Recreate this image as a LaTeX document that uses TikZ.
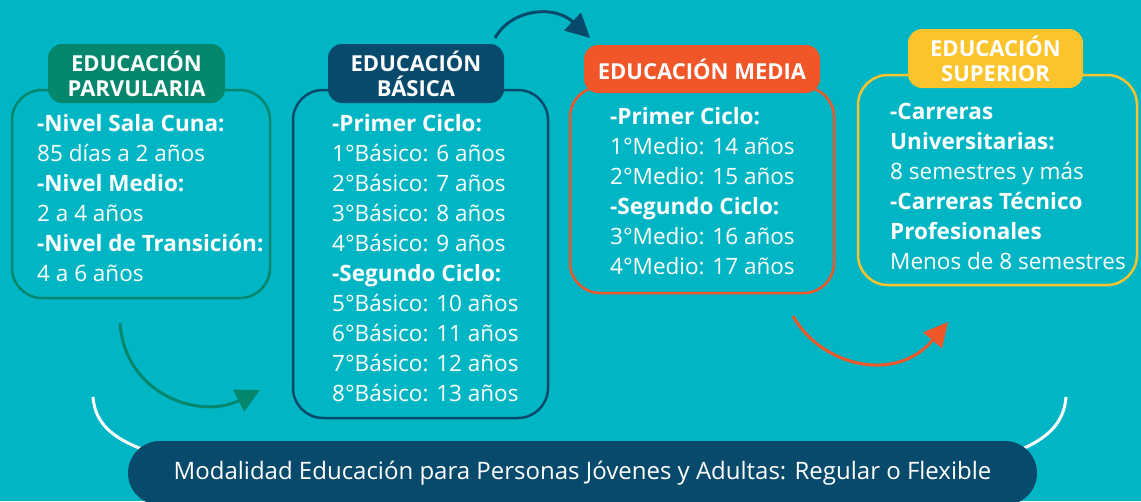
\documentclass[tikz,border=0pt]{standalone}
\usepackage{fontspec}
\setmainfont{Open Sans}
\usetikzlibrary{arrows.meta,positioning}
\definecolor{edu-bg}{RGB}{0,182,196}
\definecolor{edu-green}{RGB}{5,135,110}
\definecolor{edu-blue}{RGB}{8,74,108}
\definecolor{edu-orange}{RGB}{240,86,40}
\definecolor{edu-yellow}{RGB}{251,196,45}

\begin{document}
\begin{tikzpicture}[x=1pt, y=-1pt,
    box/.style={rectangle, draw, line width=2.5pt, rounded corners=30pt, inner sep=0pt},
    title/.style={rectangle, rounded corners=14pt, text=white, align=center, inner sep=0pt, font=\bfseries\fontsize{22}{25}\selectfont},
    body/.style={anchor=north west, inner sep=0pt, text=white, align=left, font=\fontsize{22.5}{30}\selectfont},
    arrow/.style={-{Triangle[length=24pt,width=24pt]}, line width=3pt}]

    % Background
    \path[use as bounding box, fill=edu-bg] (0,0) rectangle (1141,501);
    \clip (0,0) rectangle (1141,501);

    % Boxes
    \node[box, draw=edu-green, minimum width=258pt, minimum height=208pt] (parv) at (141,194) {};
    \node[box, draw=edu-blue, minimum width=255pt, minimum height=328pt] (basica) at (420.5,254) {};
    \node[box, draw=edu-orange, minimum width=264pt, minimum height=206pt] (media) at (702,190) {};
    \node[box, draw=edu-yellow, minimum width=279pt, minimum height=210pt] (superior) at (997.5,180) {};

    % Titles
    \node[title, fill=edu-green, minimum width=177pt, minimum height=59pt] (parvT) at (136.5,73.5) {EDUCACIÓN\\PARVULARIA};
    \node[title, fill=edu-blue, minimum width=176pt, minimum height=59pt] (basicaT) at (416,73.5) {EDUCACIÓN\\BÁSICA};
    \node[title, fill=edu-orange, minimum width=236pt, minimum height=48pt] (mediaT) at (702,69) {EDUCACIÓN MEDIA};
    \node[title, fill=edu-yellow, minimum width=175pt, minimum height=59pt] (superiorT) at (995.5,58.5) {EDUCACIÓN\\SUPERIOR};

    % Texts
    \node[body] (parvTxt) at (37,114) {\textbf{-Nivel Sala Cuna:}\\85 días a 2 años\\\textbf{-Nivel Medio:}\\2 a 4 años\\\textbf{-Nivel de Transición:}\\4 a 6 años};
    \node[body] (basicaTxt) at (332,114) {\textbf{-Primer Ciclo:}\\1°Básico: 6 años\\2°Básico: 7 años\\3°Básico: 8 años\\4°Básico: 9 años\\\textbf{-Segundo Ciclo:}\\5°Básico: 10 años\\6°Básico: 11 años\\7°Básico: 12 años\\8°Básico: 13 años};
    \node[body] (mediaTxt) at (610,107) {\textbf{-Primer Ciclo:}\\1°Medio: 14 años\\2°Medio: 15 años\\\textbf{-Segundo Ciclo:}\\3°Medio: 16 años\\4°Medio: 17 años};
    \node[body] (superiorTxt) at (890,103) {\textbf{-Carreras}\\\textbf{Universitarias:}\\8 semestres y más\\\textbf{-Carreras Técnico}\\\textbf{Profesionales}\\Menos de 8 semestres};

    % Arrow ends
    \coordinate (g1) at (120,323);
    \coordinate (g2) at (260,390);
    \coordinate (b1) at (495,38);
    \coordinate (b2) at (590,38);
    \coordinate (o1) at (793,316);
    \coordinate (o2) at (948,322);
    \coordinate (w1) at (93,397);
    \coordinate (w2) at (1066,397);

    % Arrows
    \draw[arrow, edu-green] (g1) .. controls (125,395) and (200,420) .. (g2);
    \draw[arrow, edu-blue] (b1) .. controls (512,8) and (555,5) .. (b2);
    \draw[arrow, edu-orange] (o1) .. controls (820,365) and (895,385) .. (o2);

    % Bottom
    \draw[white, line width=3pt] (w1) .. controls (95,425) and (115,440) .. (150,452);
    \draw[white, line width=3pt] (w2) .. controls (1064,425) and (1045,440) .. (1015,452);
    \node[rectangle, fill=edu-blue, rounded corners=32pt, minimum width=909pt, minimum height=64pt, text=white, font=\fontsize{24}{28}\selectfont] (modal) at (582.5,473) {Modalidad Educación para Personas Jóvenes y Adultas: Regular o Flexible};
\end{tikzpicture}
\end{document}
